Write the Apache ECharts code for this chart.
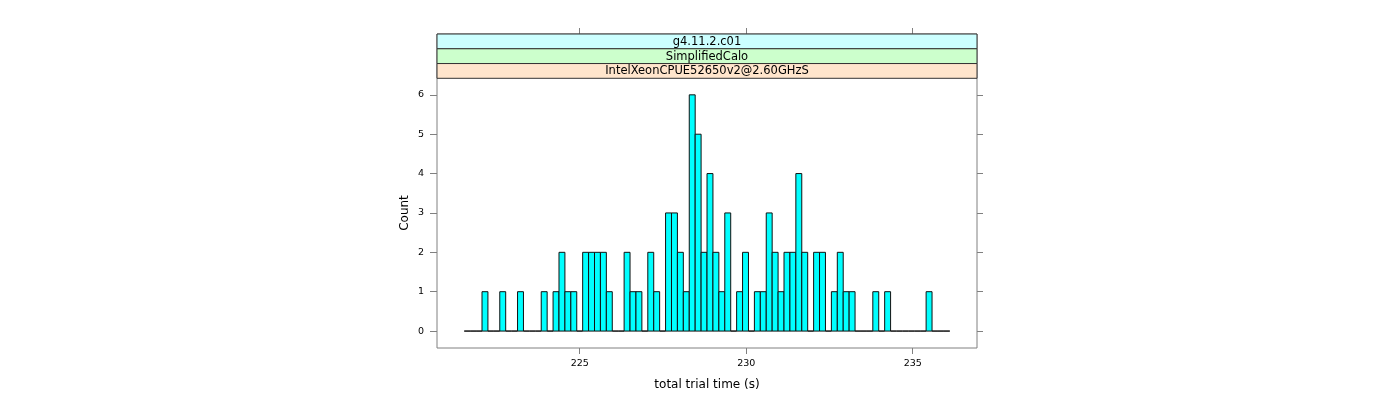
<!DOCTYPE html>
<html>
<head>
<meta charset="utf-8">
<script src="https://cdn.jsdelivr.net/npm/echarts@6/dist/echarts.min.js"></script>
<style>
html,body{margin:0;padding:0;background:#fff;}
#chart{width:1400px;height:400px;}
</style>
</head>
<body>
<div id="chart"></div>
<script>
// Histogram bins: first break and bin width (seconds), counts per bin
const breakStart = 221.533;
const binWidth = 0.17781;
const counts = [
  0,0,0,
  1,0,0,1,0,0,1,0,0,0,
  1,0,1,2,1,1,0,2,2,2,
  2,1,0,0,2,1,1,0,2,1,
  0,3,3,2,1,6,5,2,4,2,
  1,3,0,1,2,0,1,1,3,2,
  1,2,2,4,2,0,2,2,0,1,
  2,1,1,0,0,0,1,0,1,0,
  0,0,0,0,0,1,0,0,0
];
const xTicks = [225, 230, 235];
const yTicks = [0, 1, 2, 3, 4, 5, 6];
const stripLabels = ['g4.11.2.c01', 'SimplifiedCalo', 'IntelXeonCPUE52650v2@2.60GHzS'];
const stripColors = ['#ccffff', '#ccffcc', '#ffe5cc'];
const xTitle = 'total trial time (s)';
const yTitle = 'Count';

const bins = counts.map((c, i) => [breakStart + i * binWidth, breakStart + (i + 1) * binWidth, c]);

const FONT = 'DejaVu Sans';
const axisGray = '#808080';

// outer box (strips + panel)
const boxLeft = 437, boxTop = 34, boxW = 540, boxH = 314;
const stripH = 14.77;

const graphics = [];
stripLabels.forEach((lab, i) => {
  const top = boxTop + stripH * i;
  graphics.push({
    type: 'rect', z: 10,
    shape: {x: boxLeft, y: top, width: boxW, height: stripH},
    style: {fill: stripColors[i], stroke: '#333', lineWidth: 1}
  });
  graphics.push({
    type: 'text', z: 11,
    x: boxLeft + boxW / 2, y: top + stripH / 2 + 0.5,
    style: {text: lab, font: '11.5px "' + FONT + '"', fill: '#000', align: 'center', verticalAlign: 'middle'}
  });
});
graphics.push({
  type: 'text', z: 11, x: 405, y: 213, rotation: Math.PI / 2,
  style: {text: yTitle, font: '12px "' + FONT + '"', fill: '#000', align: 'center', verticalAlign: 'middle'}
});

const xMin = 220.715, xMax = 236.93;
const yMin = -0.43, yMax = 7.545;

const chart = echarts.init(document.getElementById('chart'), null, {renderer: 'canvas'});
chart.setOption({
  animation: false,
  backgroundColor: '#fff',
  grid: {left: boxLeft, top: boxTop, width: boxW, height: boxH, show: true,
         borderColor: axisGray, borderWidth: 1, backgroundColor: 'transparent'},
  xAxis: [{
    type: 'value', min: xMin, max: xMax, position: 'bottom',
    name: xTitle, nameLocation: 'middle', nameGap: 31,
    nameTextStyle: {fontFamily: FONT, fontSize: 12, color: '#000'},
    axisLine: {show: false, onZero: false}, splitLine: {show: false},
    axisTick: {show: true, length: 6, lineStyle: {color: axisGray}, customValues: xTicks},
    axisLabel: {show: true, fontFamily: FONT, fontSize: 9.5, color: '#000', margin: 11, customValues: xTicks}
  }, {
    type: 'value', min: xMin, max: xMax, position: 'top',
    axisLine: {show: false, onZero: false}, splitLine: {show: false},
    axisTick: {show: true, length: 6, lineStyle: {color: axisGray}, customValues: xTicks},
    axisLabel: {show: false}
  }],
  yAxis: [{
    type: 'value', min: yMin, max: yMax, position: 'left',
    axisLine: {show: false, onZero: false}, splitLine: {show: false},
    axisTick: {show: true, length: 7, lineStyle: {color: axisGray}, customValues: yTicks},
    axisLabel: {show: true, fontFamily: FONT, fontSize: 9.5, color: '#000', margin: 13, customValues: yTicks}
  }, {
    type: 'value', min: yMin, max: yMax, position: 'right',
    axisLine: {show: false, onZero: false}, splitLine: {show: false},
    axisTick: {show: true, length: 6, lineStyle: {color: axisGray}, customValues: yTicks},
    axisLabel: {show: false}
  }],
  graphic: graphics,
  series: [{
    type: 'custom',
    xAxisIndex: 0, yAxisIndex: 0,
    data: bins,
    clip: false,
    renderItem: function (params, api) {
      const p0 = api.coord([api.value(0), api.value(2)]);
      const p1 = api.coord([api.value(1), 0]);
      return {
        type: 'rect',
        shape: {x: p0[0], y: p0[1], width: p1[0] - p0[0], height: p1[1] - p0[1]},
        style: {fill: '#00ffff', stroke: '#111', lineWidth: 1}
      };
    }
  }]
});
</script>
</body>
</html>
